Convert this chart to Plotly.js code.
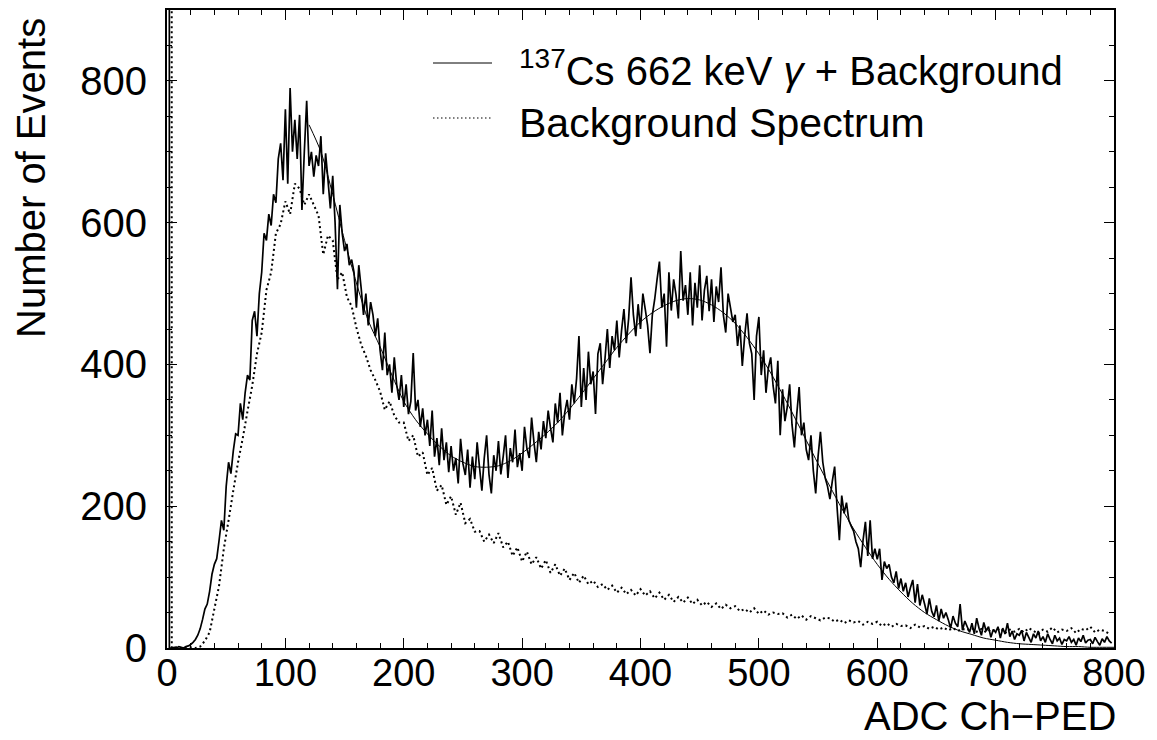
<!DOCTYPE html>
<html>
<head>
<meta charset="utf-8">
<script src="https://cdn.plot.ly/plotly-3.0.1.min.js"></script>
<style>html,body{margin:0;padding:0;background:#fff}#chart{width:1157px;height:740px}</style>
</head>
<body>
<div id="chart"></div>
<script>
// ---- data ----
const signalFirstChannel = 0;
const signalBinWidth = 2;
const signalCounts = [
  100000, 0, 0, 1, 0, 2, 1, 0, 2, 3,
  5, 8, 12, 18, 27, 40, 55, 62, 80, 104,
  118, 126, 152, 180, 166, 228, 262, 246, 278, 302,
  300, 345, 322, 360, 385, 378, 462, 475, 440, 500,
  530, 585, 575, 612, 596, 640, 628, 690, 712, 660,
  760, 655, 790, 700, 745, 690, 752, 618, 700, 772,
  680, 700, 665, 695, 680, 722, 640, 698, 660, 620,
  666, 600, 506, 625, 585, 560, 570, 540, 548, 530,
  480, 540, 508, 470, 500, 455, 488, 470, 440, 465,
  420, 392, 445, 385, 400, 360, 410, 372, 350, 385,
  340, 372, 330, 348, 416, 335, 350, 312, 338, 300,
  322, 285, 335, 270, 296, 258, 310, 265, 290, 248,
  285, 250, 268, 232, 295, 260, 244, 280, 226, 270,
  238, 290, 255, 222, 268, 300, 245, 218, 272, 250,
  292, 245, 270, 300, 240, 282, 262, 308, 255, 275,
  250, 312, 282, 268, 325, 290, 262, 305, 280, 320,
  296, 335, 310, 290, 345, 318, 360, 300, 332, 350,
  322, 372, 345, 380, 440, 340, 395, 350, 418, 372,
  390, 330, 415, 430, 372, 408, 450, 395, 440, 420,
  462, 410, 448, 478, 430, 465, 523, 470, 440, 485,
  450, 500, 478, 455, 416, 470, 492, 520, 545, 480,
  500, 425, 530, 476, 520, 498, 465, 560, 490, 512,
  470, 530, 455, 515, 480, 540, 462, 505, 525, 475,
  520, 460, 510, 488, 537, 470, 445, 500, 480, 460,
  470, 426, 455, 398, 440, 472, 430, 415, 350, 440,
  467, 385, 420, 360, 395, 410, 370, 345, 405, 300,
  365, 320, 340, 372, 315, 283, 330, 368, 300, 318,
  280, 265, 300, 250, 218, 270, 305, 262, 240, 228,
  210, 235, 256, 200, 152, 215, 190, 205, 180, 172,
  165, 150, 140, 114, 152, 178, 130, 180, 126, 140,
  125, 140, 96, 122, 112, 118, 100, 92, 108, 84,
  98, 80, 92, 72, 85, 96, 64, 90, 60, 75,
  62, 48, 70, 52, 44, 60, 38, 55, 42, 50,
  40, 28, 45, 35, 30, 62, 25, 38, 30, 22,
  35, 20, 42, 28, 18, 36, 24, 30, 15, 26,
  22, 30, 14, 28, 20, 35, 16, 24, 12, 20,
  18, 25, 10, 22, 15, 8, 20, 14, 24, 10,
  16, 8, 20, 12, 6, 18, 10, 14, 5, 12,
  10, 16, 8, 12, 4, 14, 9, 18, 7, 11,
  12, 6, 15, 9, 4, 13, 8, 16, 10, 7
];

const backgroundFirstChannel = 0;
const backgroundBinWidth = 4;
const backgroundCounts = [
  100000, 0, 1, 0, 0, 1, 0, 2, 10, 22,
  55, 88, 140, 180, 222, 262, 296, 334, 370, 415,
  445, 505, 530, 585, 598, 630, 612, 655, 648, 625,
  640, 625, 610, 555, 582, 575, 520, 530, 495, 482,
  452, 428, 412, 392, 378, 362, 336, 348, 328, 318,
  318, 292, 300, 270, 276, 244, 254, 222, 230, 202,
  214, 188, 205, 176, 182, 164, 165, 150, 160, 148,
  162, 142, 150, 130, 142, 122, 136, 118, 128, 112,
  124, 106, 118, 102, 112, 96, 106, 92, 102, 90,
  95, 86, 90, 82, 88, 78, 85, 76, 82, 74,
  83, 74, 80, 70, 78, 68, 75, 65, 72, 64,
  71, 62, 68, 60, 65, 58, 63, 55, 61, 56,
  59, 52, 55, 50, 56, 48, 53, 47, 50, 48,
  49, 43, 47, 41, 46, 40, 45, 42, 39, 43,
  42, 37, 40, 35, 39, 36, 38, 33, 37, 34,
  37, 31, 35, 30, 34, 31, 32, 28, 33, 29,
  31, 27, 30, 26, 29, 25, 28, 24, 27, 25,
  28, 23, 27, 22, 26, 24, 28, 21, 26, 23,
  27, 22, 28, 24, 20, 26, 23, 29, 22, 26,
  24, 28, 21, 27, 25, 30, 22, 26, 24, 20
];

const fitChannels = [
  120, 130, 140, 150, 160, 170, 180, 190, 200, 210,
  220, 230, 240, 250, 260, 270, 280, 290, 300, 310,
  320, 330, 340, 350, 360, 370, 380, 390, 400, 410,
  420, 430, 440, 450, 460, 470, 480, 490, 500, 510,
  520, 530, 540, 550, 560, 570, 580, 590, 600, 610,
  620, 630, 640, 650, 660, 670, 680, 690, 700, 710,
  720, 730, 740, 750, 760, 770, 780, 790, 800
];
const fitValues = [
  738, 700, 640, 575, 515, 462, 425, 385, 348, 322,
  302, 285, 271, 262, 256, 255, 257, 264, 275, 288,
  302, 318, 337, 358, 380, 402, 424, 443, 460, 473,
  483, 490, 493, 491, 484, 473, 458, 438, 415, 388,
  358, 326, 293, 260, 228, 197, 168, 142, 118, 97,
  79, 63, 50, 40, 31, 24, 19, 14, 11, 8,
  6, 5, 4, 3, 2, 2, 1, 1, 1
];

const xTickVals = [0, 100, 200, 300, 400, 500, 600, 700, 800];
const xTickText = ["0", "100", "200", "300", "400", "500", "600", "700", "800"];
const yTickVals = [0, 200, 400, 600, 800];
const yTickText = ["0", "200", "400", "600", "800"];
const seriesNames = ["<sup>137</sup>Cs 662 keV <i>γ</i> + Background", "Background Spectrum"];
const xTitle = "ADC Ch\u2212PED";
const yTitle = "Number of Events";

// ---- build ----
const signalChannels = signalCounts.map((_, i) => signalFirstChannel + i * signalBinWidth);
const backgroundChannels = backgroundCounts.map((_, i) => backgroundFirstChannel + i * backgroundBinWidth);

const W = 1157, H = 740, L = 167, R = 1114, T = 10, B = 648;
const px = x => (x - L) / (R - L);
const py = y => (B - y) / (B - T);
const FONT = 'Liberation Sans, Arial, Helvetica, sans-serif';

const traces = [
  {
    type: 'scatter', mode: 'lines', name: seriesNames[1],
    x: backgroundChannels, y: backgroundCounts,
    line: {color: '#000', width: 2, dash: '2px,3px', simplify: false},
    hoverinfo: 'skip', showlegend: false
  },
  {
    type: 'scatter', mode: 'lines', name: seriesNames[0],
    x: signalChannels, y: signalCounts,
    line: {color: '#000', width: 1.7, simplify: false},
    hoverinfo: 'skip', showlegend: false
  },
  {
    type: 'scatter', mode: 'lines', name: 'fit',
    x: fitChannels, y: fitValues,
    line: {color: '#000', width: 1, shape: 'spline', smoothing: 0.8},
    hoverinfo: 'skip', showlegend: false
  }
];

const axisCommon = {
  ticks: 'inside', tickcolor: '#000', tickwidth: 1,
  showline: true, linecolor: '#000', linewidth: 2, mirror: 'allticks',
  showgrid: false, zeroline: false, fixedrange: true
};

const layout = {
  width: W, height: H,
  margin: {l: L, r: W - R, t: T, b: H - B, pad: 0},
  paper_bgcolor: '#fff', plot_bgcolor: '#fff',
  showlegend: false,
  font: {family: FONT, color: '#000'},
  xaxis: Object.assign({}, axisCommon, {
    range: [0, 800], tickmode: 'array', tickvals: xTickVals, ticktext: xTickText,
    ticklen: 10, tickfont: {family: FONT, size: 38, color: '#000'},
    ticklabelstandoff: -10,
    minor: {tick0: 0, dtick: 20, ticks: 'inside', ticklen: 5, tickcolor: '#000', tickwidth: 1, showgrid: false}
  }),
  yaxis: Object.assign({}, axisCommon, {
    range: [0, 900], tickmode: 'array', tickvals: yTickVals, ticktext: yTickText,
    ticklen: 10, tickfont: {family: FONT, size: 40, color: '#000'},
    ticklabelstandoff: 10,
    minor: {tick0: 0, dtick: 50, ticks: 'inside', ticklen: 5, tickcolor: '#000', tickwidth: 1, showgrid: false}
  }),
  shapes: [
    {type: 'line', xref: 'paper', yref: 'paper', x0: px(433), x1: px(492), y0: py(63), y1: py(63),
     line: {color: '#000', width: 1}},
    {type: 'line', xref: 'paper', yref: 'paper', x0: px(433), x1: px(492), y0: py(118), y1: py(118),
     line: {color: '#000', width: 1.2, dash: '1.5px,2.5px'}}
  ],
  annotations: [
    {xref: 'paper', yref: 'paper', x: px(518), y: py(68), xanchor: 'left', yanchor: 'middle',
     text: seriesNames[0], showarrow: false, borderpad: 0, font: {family: FONT, size: 40, color: '#000'}},
    {xref: 'paper', yref: 'paper', x: px(518), y: py(123), xanchor: 'left', yanchor: 'middle',
     text: seriesNames[1], showarrow: false, borderpad: 0, font: {family: FONT, size: 41, color: '#000'}},
    {xref: 'paper', yref: 'paper', x: px(1117), y: py(716), xanchor: 'right', yanchor: 'middle',
     text: xTitle, showarrow: false, borderpad: 0, font: {family: FONT, size: 40, color: '#000'}},
    {xref: 'paper', yref: 'paper', x: px(31), y: py(178), xanchor: 'center', yanchor: 'middle',
     text: yTitle, textangle: -90, showarrow: false, borderpad: 0, font: {family: FONT, size: 40, color: '#000'}}
  ]
};

Plotly.newPlot('chart', traces, layout, {staticPlot: true, displayModeBar: false});
</script>
</body>
</html>
